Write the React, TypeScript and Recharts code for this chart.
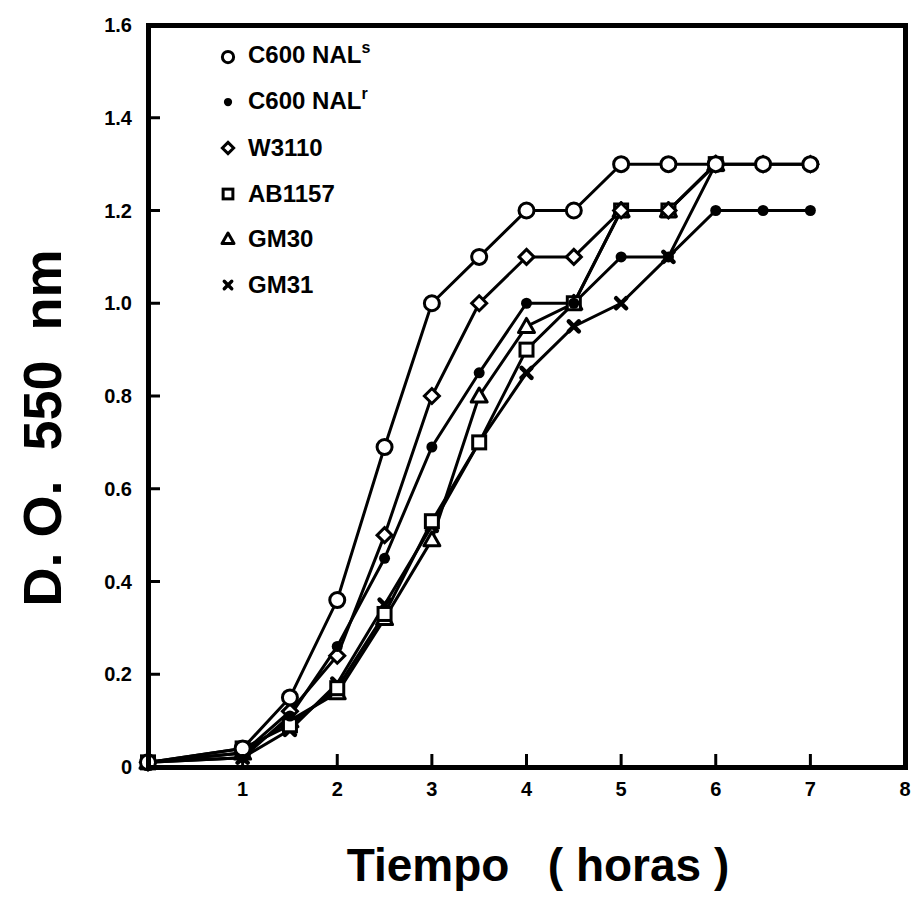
import React from 'react';
import { LineChart, Line, XAxis, YAxis, Legend } from 'recharts';

// hours
const TIME = [0, 1, 1.5, 2, 2.5, 3, 3.5, 4, 4.5, 5, 5.5, 6, 6.5, 7];

// D.O. 550 nm per strain
const C600_NALS = [0.01, 0.04, 0.15, 0.36, 0.69, 1.0, 1.1, 1.2, 1.2, 1.3, 1.3, 1.3, 1.3, 1.3];
const C600_NALR = [0.01, 0.02, 0.11, 0.26, 0.45, 0.69, 0.85, 1.0, 1.0, 1.1, 1.1, 1.2, 1.2, 1.2];
const W3110 = [0.01, 0.03, 0.12, 0.24, 0.5, 0.8, 1.0, 1.1, 1.1, 1.2, 1.2, 1.3, 1.3, 1.3];
const AB1157 = [0.01, 0.04, 0.09, 0.17, 0.33, 0.53, 0.7, 0.9, 1.0, 1.2, 1.2, 1.3, null, null];
const GM30 = [0.01, 0.03, 0.1, 0.16, 0.32, 0.49, 0.8, 0.95, 1.0, 1.2, 1.2, 1.3, null, null];
const GM31 = [0.01, 0.02, 0.08, 0.18, 0.35, 0.52, 0.7, 0.85, 0.95, 1.0, 1.1, 1.3, null, null];

const Y_TICKS = [0, 0.2, 0.4, 0.6, 0.8, 1.0, 1.2, 1.4, 1.6];
const X_TICKS = [1, 2, 3, 4, 5, 6, 7, 8];

type Kind = 'openCircle' | 'filledCircle' | 'diamond' | 'square' | 'triangle' | 'cross';

const SERIES: { key: string; label: string; sup?: string; kind: Kind; values: (number | null)[] }[] = [
  { key: 'nals', label: 'C600 NAL', sup: 's', kind: 'openCircle', values: C600_NALS },
  { key: 'nalr', label: 'C600 NAL', sup: 'r', kind: 'filledCircle', values: C600_NALR },
  { key: 'w3110', label: 'W3110', kind: 'diamond', values: W3110 },
  { key: 'ab1157', label: 'AB1157', kind: 'square', values: AB1157 },
  { key: 'gm30', label: 'GM30', kind: 'triangle', values: GM30 },
  { key: 'gm31', label: 'GM31', kind: 'cross', values: GM31 },
];

const data = TIME.map((t, i) => {
  const row: Record<string, number | null> = { t };
  SERIES.forEach((s) => {
    row[s.key] = s.values[i];
  });
  return row;
});

const FONT = '"Liberation Sans", Arial, Helvetica, sans-serif';

// plot box (matches chart margins below)
const PLOT = { left: 148, top: 25, right: 905, bottom: 767 };

const Marker = ({ kind, cx, cy, s = 1 }: { kind: Kind; cx: number; cy: number; s?: number }) => {
  const sw = 3;
  switch (kind) {
    case 'openCircle':
      return <circle cx={cx} cy={cy} r={7.5 * s} fill="#fff" stroke="#000" strokeWidth={sw} />;
    case 'filledCircle':
      return <circle cx={cx} cy={cy} r={5.5 * s} fill="#000" />;
    case 'diamond': {
      const d = 7.5 * s;
      return (
        <polygon
          points={`${cx},${cy - d} ${cx + d},${cy} ${cx},${cy + d} ${cx - d},${cy}`}
          fill="#fff"
          stroke="#000"
          strokeWidth={sw}
        />
      );
    }
    case 'square': {
      const d = 6.5 * s;
      return <rect x={cx - d} y={cy - d} width={2 * d} height={2 * d} fill="#fff" stroke="#000" strokeWidth={sw} />;
    }
    case 'triangle': {
      const d = 8 * s;
      return (
        <polygon
          points={`${cx},${cy - d} ${cx + d},${cy + d * 0.75} ${cx - d},${cy + d * 0.75}`}
          fill="#fff"
          stroke="#000"
          strokeWidth={sw}
          strokeLinejoin="round"
        />
      );
    }
    case 'cross': {
      const d = 5 * s;
      return (
        <g stroke="#000" strokeWidth={4.5 * s} strokeLinecap="round">
          <line x1={cx - d} y1={cy - d} x2={cx + d} y2={cy + d} />
          <line x1={cx - d} y1={cy + d} x2={cx + d} y2={cy - d} />
        </g>
      );
    }
  }
  return null;
};

const makeDot = (kind: Kind, name: string) => (props: any) => {
  const { cx, cy, index } = props;
  if (cx == null || cy == null || props.value == null) return <g key={`${name}-${index}`} />;
  return (
    <g key={`${name}-${index}`}>
      <Marker kind={kind} cx={cx} cy={cy} />
    </g>
  );
};

const YTick = (props: any) => {
  const { x, y, payload } = props;
  const v = payload.value;
  const axisX = x + 16;
  const showLine = v > 0 && v < 1.6;
  return (
    <g>
      {showLine && <line x1={axisX} x2={axisX + 12} y1={y} y2={y} stroke="#000" strokeWidth={3} />}
      <text x={x} y={y} dy="0.36em" textAnchor="end" fontFamily={FONT} fontWeight="bold" fontSize={20} fill="#000">
        {v === 0 ? '0' : v.toFixed(1)}
      </text>
    </g>
  );
};

const XTick = (props: any) => {
  const { x, y, payload } = props;
  const v = payload.value;
  const axisY = y - 14;
  return (
    <g>
      {v < 8 && <line x1={x} x2={x} y1={axisY} y2={axisY - 13} stroke="#000" strokeWidth={3} />}
      <text x={x} y={y} dy="0.75em" textAnchor="middle" fontFamily={FONT} fontWeight="bold" fontSize={20} fill="#000">
        {v}
      </text>
    </g>
  );
};

const LegendBox = () => (
  <div style={{ fontFamily: FONT, fontWeight: 'bold', fontSize: 24, color: '#000' }}>
    {SERIES.map((s) => (
      <div key={s.key} style={{ display: 'flex', alignItems: 'center', height: 45.6 }}>
        <svg width={20} height={20} style={{ display: 'block' }}>
          <Marker kind={s.kind} cx={10} cy={10} s={0.75} />
        </svg>
        <span style={{ marginLeft: 10, lineHeight: '24px', whiteSpace: 'nowrap' }}>
          {s.label}
          {s.sup && <span style={{ fontSize: 16, position: 'relative', top: -10 }}>{s.sup}</span>}
        </span>
      </div>
    ))}
  </div>
);

// draw order: open circles on top
const DRAW_ORDER = ['gm31', 'gm30', 'ab1157', 'w3110', 'nalr', 'nals'];

const BORDER = 5;

export default function App() {
  return (
    <div style={{ position: 'absolute', left: 0, top: 0, width: 919, height: 919, background: '#fff' }}>
      <LineChart
        width={919}
        height={919}
        data={data}
        margin={{ top: PLOT.top, right: 919 - PLOT.right, bottom: 919 - PLOT.bottom - 40, left: 0 }}
      >
        <XAxis
          dataKey="t"
          type="number"
          domain={[0, 8]}
          ticks={X_TICKS}
          interval={0}
          tickSize={0}
          tickMargin={14}
          height={40}
          axisLine={false}
          tickLine={false}
          tick={XTick}
        />
        <YAxis
          type="number"
          domain={[0, 1.6]}
          ticks={Y_TICKS}
          interval={0}
          width={PLOT.left}
          tickSize={0}
          tickMargin={16}
          axisLine={false}
          tickLine={false}
          tick={YTick}
        />
        <Legend
          layout="horizontal"
          verticalAlign="middle"
          align="center"
          wrapperStyle={{ left: 218, top: 34, width: 'auto' }}
          content={() => <LegendBox />}
        />
        {DRAW_ORDER.map((k) => {
          const s = SERIES.find((x) => x.key === k)!;
          return (
            <Line
              key={s.key}
              dataKey={s.key}
              name={s.label + (s.sup || '')}
              type="linear"
              stroke="#000"
              strokeWidth={3}
              dot={makeDot(s.kind, s.key)}
              activeDot={false}
              isAnimationActive={false}
            />
          );
        })}
      </LineChart>
      {/* thick box round the plot */}
      <div
        style={{
          position: 'absolute',
          left: PLOT.left - BORDER / 2,
          top: PLOT.top - BORDER / 2,
          width: PLOT.right - PLOT.left + BORDER,
          height: PLOT.bottom - PLOT.top + BORDER,
          border: `${BORDER}px solid #000`,
          boxSizing: 'border-box',
          pointerEvents: 'none',
        }}
      />
      <div
        style={{
          position: 'absolute',
          left: 42,
          top: 428,
          transform: 'translate(-50%, -50%) rotate(-90deg)',
          fontFamily: FONT,
          fontWeight: 'bold',
          fontSize: 54,
          whiteSpace: 'pre',
          lineHeight: '54px',
          color: '#000',
        }}
      >
        D. O.  550  nm
      </div>
      <div
        style={{
          position: 'absolute',
          left: 0,
          width: 1076,
          top: 842,
          textAlign: 'center',
          fontFamily: FONT,
          fontWeight: 'bold',
          fontSize: 46,
          lineHeight: '46px',
          whiteSpace: 'pre',
          color: '#000',
        }}
      >
        Tiempo   ( horas )
      </div>
    </div>
  );
}
